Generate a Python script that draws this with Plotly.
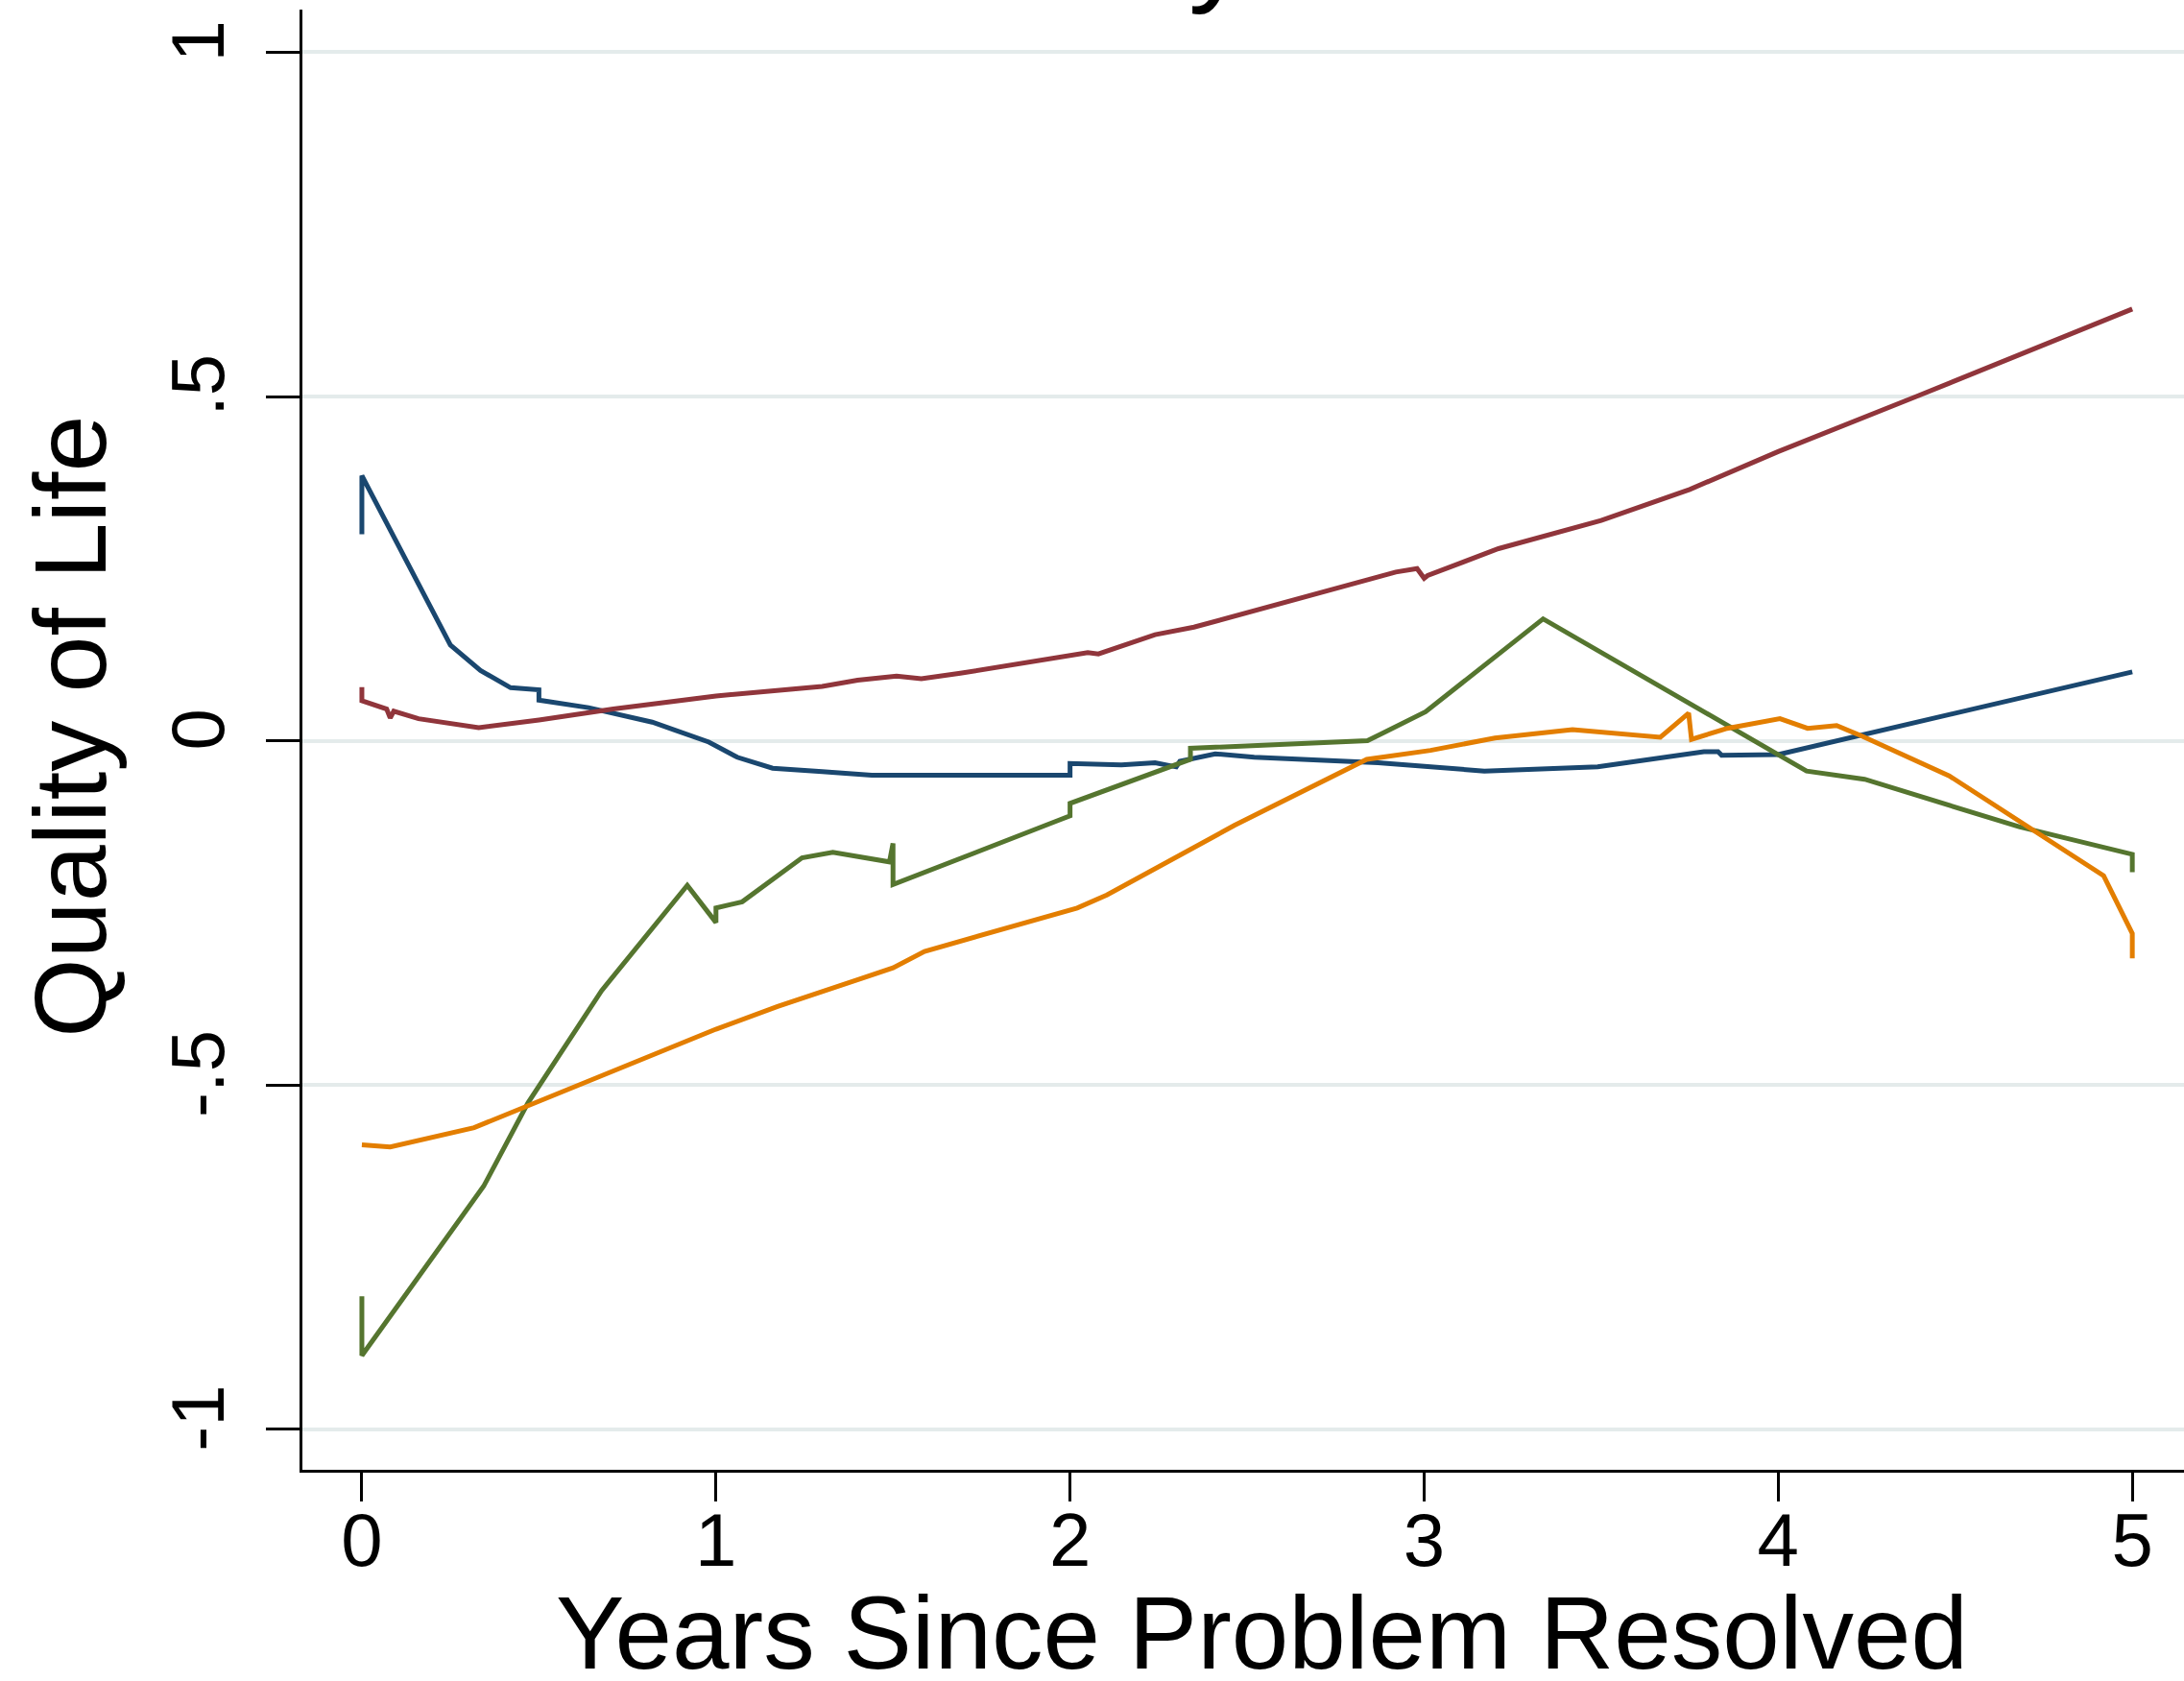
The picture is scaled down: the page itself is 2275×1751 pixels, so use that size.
import plotly.graph_objects as go

# Years since the problem was resolved, and predicted quality of life per group
navy_x = [0, 0, 0.25, 0.335, 0.42, 0.48, 0.5, 0.5, 0.64, 0.82, 0.98, 1.06, 1.16, 1.30, 1.44, 1.69,
          2.0, 2.0, 2.145, 2.24, 2.30, 2.31, 2.41, 2.52, 2.87, 3.17, 3.49, 3.79, 3.83, 3.84, 4.0, 5.0]
navy_y = [0.30, 0.385, 0.139, 0.102, 0.077, 0.074, 0.074, 0.059, 0.048, 0.027, -0.002, -0.024, -0.040,
          -0.045, -0.050, -0.050, -0.050, -0.033, -0.035, -0.032, -0.038, -0.030, -0.019, -0.024,
          -0.032, -0.044, -0.038, -0.016, -0.016, -0.021, -0.020, 0.10]

maroon_x = [0, 0, 0.07, 0.08, 0.09, 0.16, 0.33, 0.5, 0.71, 1.0, 1.3, 1.4, 1.51, 1.58, 1.69, 1.86,
            2.05, 2.08, 2.24, 2.35, 2.52, 2.73, 2.92, 2.98, 3.0, 3.01, 3.21, 3.5, 3.75, 4.0, 4.39, 5.0]
maroon_y = [0.078, 0.058, 0.046, 0.033, 0.043, 0.032, 0.019, 0.030, 0.046, 0.065, 0.079, 0.088, 0.094,
            0.090, 0.098, 0.112, 0.128, 0.126, 0.154, 0.165, 0.189, 0.218, 0.245, 0.250, 0.236, 0.240,
            0.279, 0.320, 0.365, 0.420, 0.500, 0.627]

green_x = [0, 0, 0.344, 0.469, 0.677, 0.919, 1.0, 1.0, 1.074, 1.243, 1.33, 1.49, 1.5, 1.5, 1.96,
           2.0, 2.0, 2.34, 2.34, 2.84, 3.004, 3.336, 4.08, 4.244, 4.68, 5.0, 5.0]
green_y = [-0.807, -0.893, -0.647, -0.526, -0.363, -0.210, -0.264, -0.243, -0.234, -0.170, -0.162,
           -0.176, -0.149, -0.209, -0.117, -0.109, -0.091, -0.027, -0.011, 0.0, 0.042, 0.177, -0.044,
           -0.056, -0.125, -0.165, -0.191]

orange_x = [0, 0.08, 0.317, 0.455, 0.759, 1.0, 1.174, 1.5, 1.589, 2.02, 2.104, 2.464, 2.838, 3.018,
            3.2, 3.419, 3.667, 3.747, 3.755, 3.856, 4.005, 4.083, 4.165, 4.235, 4.483, 4.73, 4.919,
            5.0, 5.0]
orange_y = [-0.587, -0.590, -0.562, -0.533, -0.469, -0.419, -0.386, -0.330, -0.306, -0.243, -0.224,
            -0.123, -0.027, -0.014, 0.004, 0.016, 0.005, 0.040, 0.002, 0.018, 0.032, 0.018, 0.022,
            0.007, -0.051, -0.133, -0.196, -0.280, -0.316]

x_ticks = [0, 1, 2, 3, 4, 5]
x_tick_text = ["0", "1", "2", "3", "4", "5"]
y_ticks = [-1, -0.5, 0, 0.5, 1]
y_tick_text = ["-1", "-.5", "0", ".5", "1"]

FONT = "Liberation Sans, Arial, Helvetica, sans-serif"

series = [
    (navy_x, navy_y, "#1A476F"),
    (maroon_x, maroon_y, "#90353B"),
    (green_x, green_y, "#55752F"),
    (orange_x, orange_y, "#E37E00"),
]

fig = go.Figure()
for xs, ys, color in series:
    fig.add_trace(go.Scatter(x=xs, y=ys, mode="lines",
                             line=dict(color=color, width=5), showlegend=False))

fig.update_layout(
    width=2275, height=1751, autosize=False,
    margin=dict(l=315, r=0, t=10, b=220, pad=0),
    paper_bgcolor="white", plot_bgcolor="white",
    font=dict(family=FONT, color="black"),
    showlegend=False,
)

fig.update_xaxes(
    range=[-0.168, 5.146], tickvals=x_ticks, ticktext=x_tick_text,
    showgrid=False, zeroline=False,
    showline=True, linecolor="black", linewidth=3,
    ticks="outside", ticklen=30, tickwidth=3, tickcolor="black",
    tickfont=dict(size=78, family=FONT, color="black"),
    ticklabelstandoff=-27,
)
fig.update_yaxes(
    range=[-1.059, 1.062], tickvals=y_ticks, ticktext=y_tick_text,
    showgrid=True, gridcolor="#E4EBEB", gridwidth=4, zeroline=False,
    showline=True, linecolor="black", linewidth=3,
    ticks="outside", ticklen=35, tickwidth=3, tickcolor="black",
    tickangle=-90,
    tickfont=dict(size=78, family=FONT, color="black"),
    ticklabelstandoff=13,
)

fig.add_annotation(text="Quality of Life", xref="paper", yref="paper",
                   x=-0.1235, y=0.509, xanchor="center", yanchor="middle",
                   textangle=-90, showarrow=False,
                   font=dict(size=106, family=FONT, color="black"))
fig.add_annotation(text="Years Since Problem Resolved", xref="paper", yref="paper",
                   x=0.510, y=-0.112, xanchor="center", yanchor="middle",
                   showarrow=False,
                   font=dict(size=107, family=FONT, color="black"))
# Title sitting above the top edge of the page; only the tail of its "y" shows
fig.add_annotation(text="y", xref="paper", yref="paper",
                   x=0.487, y=0.9957, xanchor="center", yanchor="bottom",
                   showarrow=False,
                   font=dict(size=125, family=FONT, color="black"))

fig.write_html("out.html")
